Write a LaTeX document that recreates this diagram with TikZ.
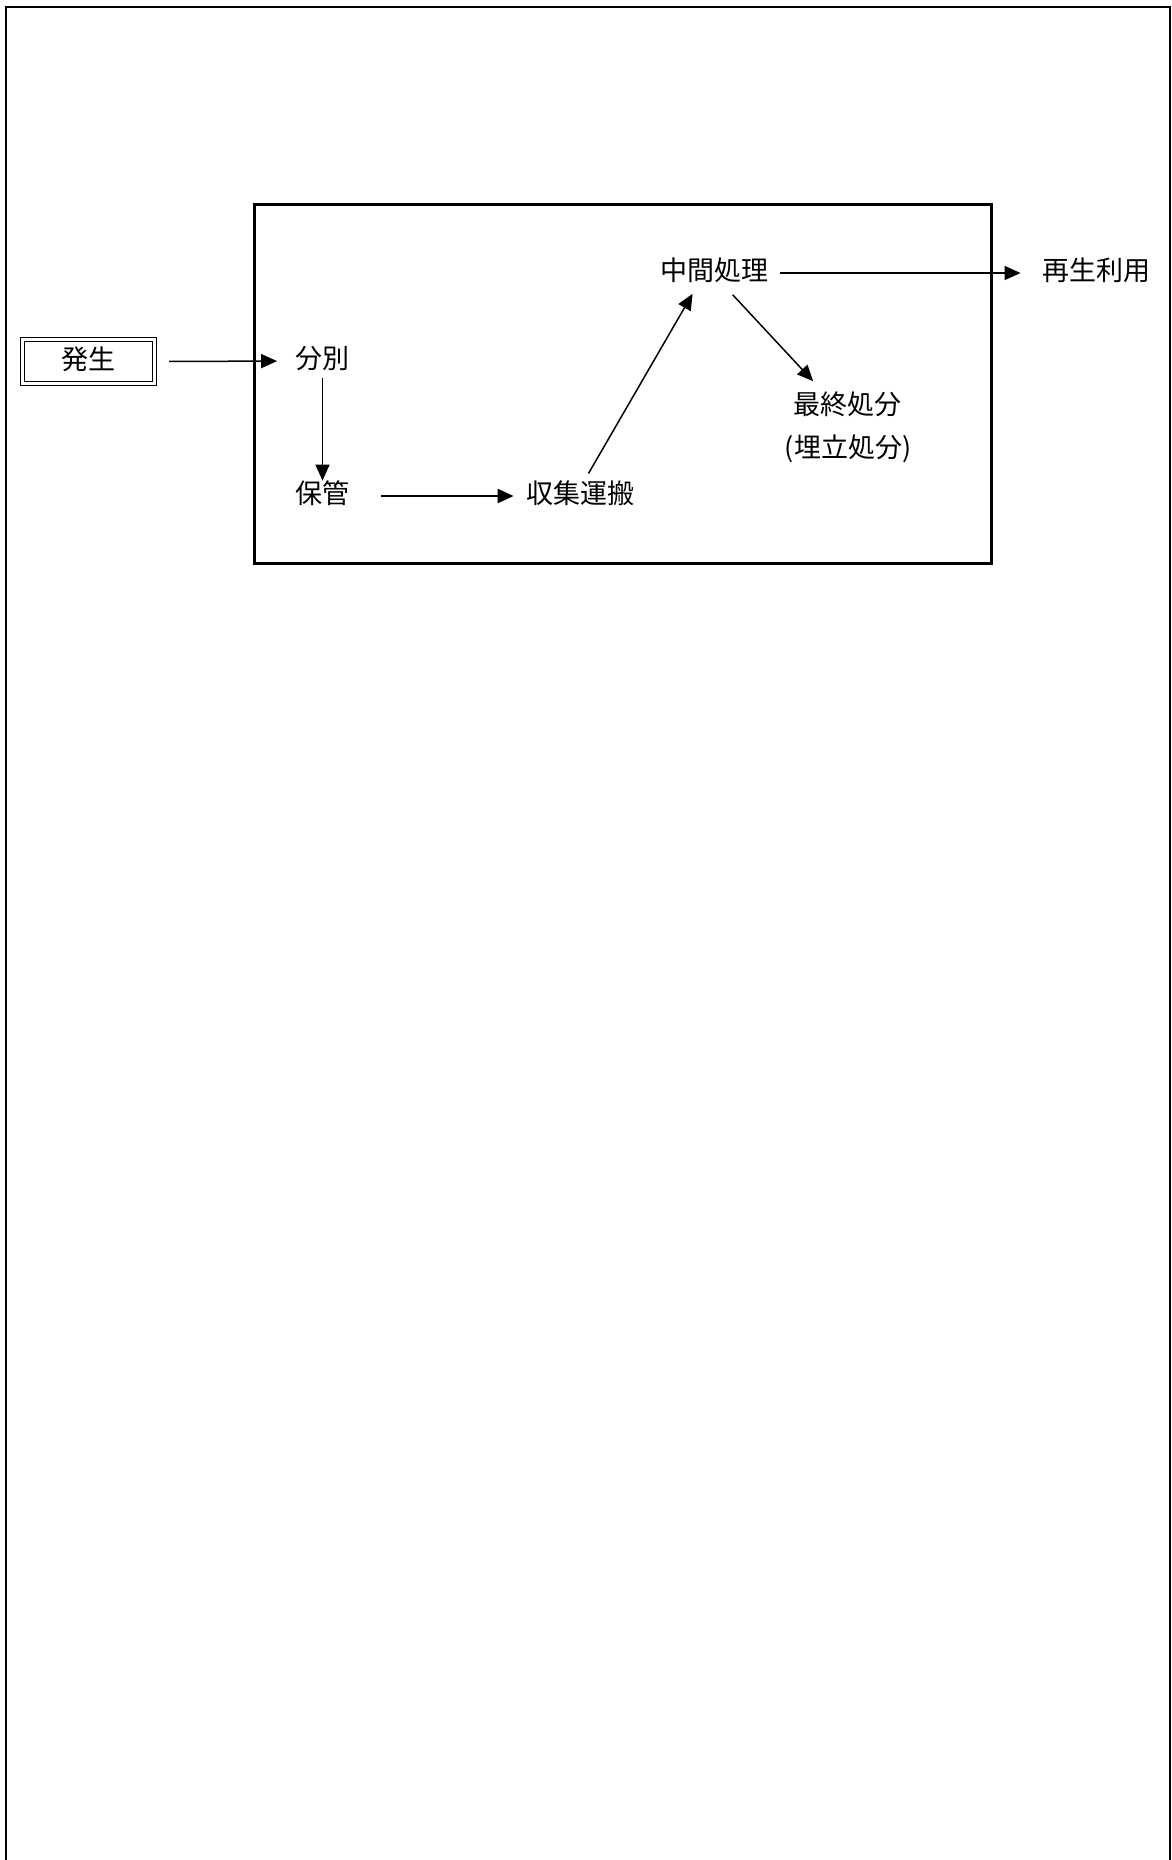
\documentclass[tikz,border=0pt]{standalone}
\usepackage{fontspec}
\usepackage{tikz}
\usetikzlibrary{arrows.meta}
\newfontfamily\jpfont{Noto Sans CJK JP}
\tikzset{
    word/.style={font=\jpfont\fontsize{13.5}{16}\selectfont, inner sep=0pt, text height=0.88em, text depth=0.12em},
    flow/.style={-{Triangle[length=8pt,width=7pt]}, line width=0.75pt},
}

\begin{document}
\begin{tikzpicture}[x=0.5pt,y=-0.5pt]
    \useasboundingbox (0,0) rectangle (1172,1860);
    % page frame and the inner box
    \draw [line width=1pt] (6,1860) -- (6,7) -- (1170,7) -- (1170,1860);
    \draw [line width=1.5pt] (254,204) rectangle (991,563);
    \node (hassei) at (88.5,361.5) [word, draw, double, line width=0.6pt, double distance=1.2pt, minimum width=66pt, minimum height=22pt] {発生};
    \node (bunbetsu) at (322.5,361) [word] {分別};
    \node (hokan) at (322.5,496) [word] {保管};
    \node (shushu) at (580,496) [word] {収集運搬};
    \node (chukan) at (714,273) [word] {中間処理};
    \node (saisei) at (1096,273) [word] {再生利用};
    \node (saishu) at (847,407) [word] {最終処分};
    \node (umetate) at (848,450) [word] {(埋立処分)};
    \draw [flow, shorten <=7pt, shorten >=9pt] (hassei.east) -- (bunbetsu.west);
    \draw [flow, shorten <=3.5pt, shorten >=2.5pt] (bunbetsu.south) -- (hokan.north);
    \draw [flow, line width=1.2pt, shorten <=15.5pt, shorten >=6pt] (hokan.east) -- (shushu.west);
    \draw [flow, shorten <=7pt, shorten >=6pt] (shushu.82) -- (chukan.214);
    \draw [flow, shorten <=6pt, shorten >=10.5pt] (chukan.east) -- (saisei.west);
    \draw [flow, shorten <=7.75pt, shorten >=10.5pt] (chukan.308) -- (saishu.152);
\end{tikzpicture}
\end{document}
